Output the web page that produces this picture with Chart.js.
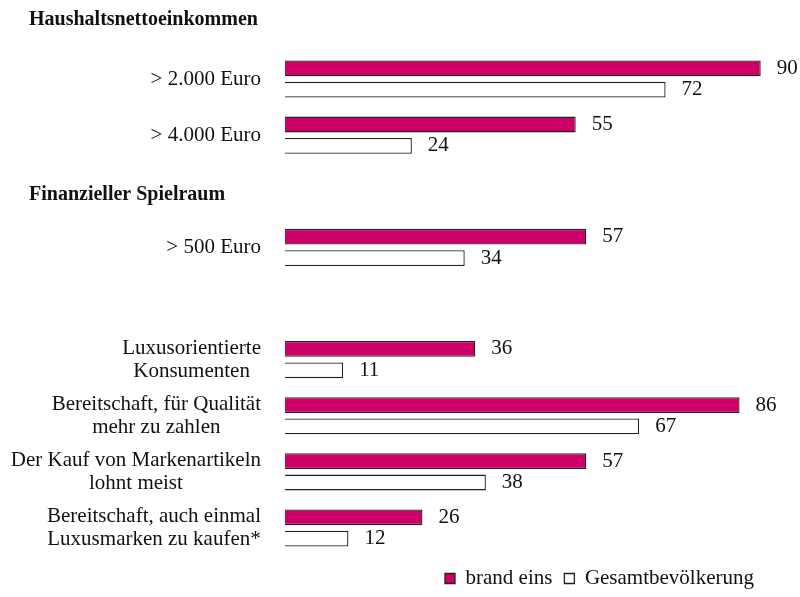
<!DOCTYPE html>
<html>
<head>
    <meta charset="UTF-8" />
    <title>brand eins Leser</title>
    <script src="https://cdn.jsdelivr.net/npm/chart.js"></script>
    <style>
        body { margin: 0; background: #fff; }
        #wrap { width: 800px; height: 597px; }
    </style>
</head>
<body>
    <div id="wrap"><canvas id="chart"></canvas></div>
    <script>
        // rows of the chart (empty rows hold the section headers / spacing)
        const categories = [
            '> 2.000 Euro',
            '> 4.000 Euro',
            '',
            '> 500 Euro',
            '',
            ['Luxusorientierte', 'Konsumenten'],
            ['Bereitschaft, für Qualität', 'mehr zu zahlen'],
            ['Der Kauf von Markenartikeln', 'lohnt meist'],
            ['Bereitschaft, auch einmal', 'Luxusmarken zu kaufen*']
        ];
        const brandEins = [90, 55, null, 57, null, 36, 86, 57, 26];
        const gesamt = [72, 24, null, 34, null, 11, 67, 38, 12];
        // section headers, placed relative to the rows (in row units)
        const headerTexts = ['Haushaltsnettoeinkommen', 'Finanzieller Spielraum'];
        const headerRows = [-0.96, 2.16];

        const serif = "'Liberation Serif', 'Times New Roman', serif";

        // labels left of the bars + headers
        const rowLabels = {
            id: 'rowLabels',
            afterDraw(chart) {
                const ctx = chart.ctx;
                const y = chart.scales.y;
                const right = chart.chartArea.left - 24;
                ctx.save();
                ctx.fillStyle = '#111';
                ctx.font = '21px ' + serif;
                ctx.textBaseline = 'middle';
                categories.forEach((lab, i) => {
                    const py = y.getPixelForValue(i);
                    const lines = Array.isArray(lab) ? lab : [lab];
                    const w = Math.max(...lines.map(l => ctx.measureText(l).width));
                    const lh = 23;
                    lines.forEach((l, k) => {
                        const ly = py + (k - (lines.length - 1) / 2) * lh;
                        if (lines.length === 1) {
                            ctx.textAlign = 'right';
                            ctx.fillText(l, right, ly);
                        } else {
                            ctx.textAlign = 'center';
                            ctx.fillText(l, right - w / 2, ly);
                        }
                    });
                });
                // headers
                const step = y.getPixelForValue(1) - y.getPixelForValue(0);
                ctx.font = 'bold 20px ' + serif;
                ctx.textAlign = 'left';
                ctx.textBaseline = 'alphabetic';
                headerTexts.forEach((t, i) => {
                    ctx.fillText(t, 29, y.getPixelForValue(0) + headerRows[i] * step);
                });
                ctx.restore();
            }
        };

        // value labels at bar ends
        const valueLabels = {
            id: 'valueLabels',
            afterDatasetsDraw(chart) {
                const ctx = chart.ctx;
                ctx.save();
                ctx.fillStyle = '#111';
                ctx.font = '21px ' + serif;
                ctx.textAlign = 'left';
                ctx.textBaseline = 'middle';
                chart.data.datasets.forEach((ds, di) => {
                    chart.getDatasetMeta(di).data.forEach((bar, i) => {
                        if (ds.data[i] == null) return;
                        ctx.fillText(ds.data[i], bar.x + 16, bar.y);
                    });
                });
                ctx.restore();
            }
        };

        new Chart(document.getElementById('chart'), {
            type: 'bar',
            data: {
                labels: categories,
                datasets: [
                    {
                        label: 'brand eins',
                        data: brandEins,
                        backgroundColor: '#cc0066',
                        borderColor: '#222',
                        borderWidth: 1.3
                    },
                    {
                        label: 'Gesamtbevölkerung',
                        data: gesamt,
                        backgroundColor: '#ffffff',
                        borderColor: '#222',
                        borderWidth: 1.3
                    }
                ]
            },
            options: {
                indexAxis: 'y',
                responsive: true,
                maintainAspectRatio: false,
                animation: false,
                categoryPercentage: 0.76,
                barPercentage: 0.74,
                layout: { padding: { left: 285, right: 34, top: 51, bottom: 0 } },
                scales: {
                    x: { display: false, min: 0, max: 91 },
                    y: { display: false }
                },
                plugins: {
                    tooltip: { enabled: false },
                    legend: {
                        position: 'bottom',
                        align: 'end',
                        maxHeight: 41,
                        labels: {
                            boxWidth: 10,
                            boxHeight: 10,
                            padding: 12,
                            color: '#111',
                            font: { family: serif, size: 21 }
                        }
                    }
                }
            },
            plugins: [rowLabels, valueLabels]
        });
    </script>
</body>
</html>
